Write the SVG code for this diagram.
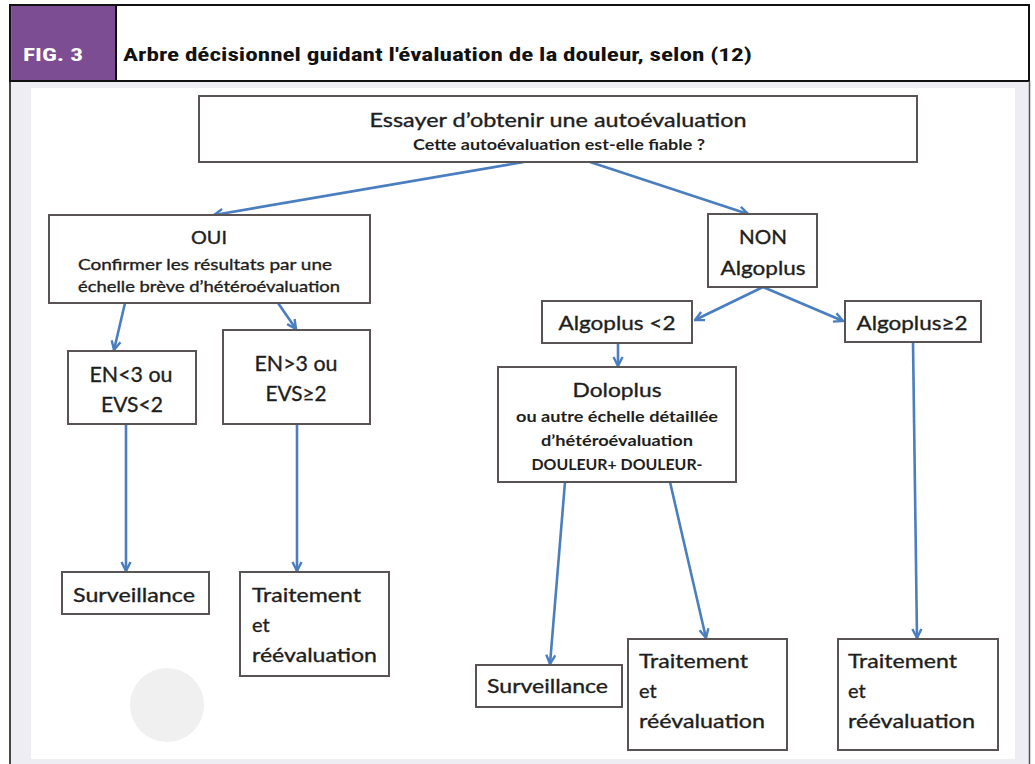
<svg xmlns="http://www.w3.org/2000/svg" width="1035" height="764" viewBox="0 0 1035 764">
<defs>
<style>
.box{fill:#ffffff;stroke:#595353;stroke-width:2}
.t{font-family:Lato,"Open Sans","Liberation Sans",sans-serif;fill:#1e1e1e;stroke:#1e1e1e;stroke-width:0.35}
.c{text-anchor:middle}
.b{font-weight:bold;stroke-width:0}
.con{fill:none;stroke:#4a7ebf;stroke-width:2.6;marker-end:url(#ah)}
.hdr{font-family:"Liberation Sans Narrow","Roboto Condensed","Liberation Sans",sans-serif;font-weight:bold;font-size:18px}
.wm{fill:#f0f0f0}
</style>
<marker id="ah" viewBox="0 0 12 12" refX="10.5" refY="6" markerWidth="12" markerHeight="12" markerUnits="userSpaceOnUse" orient="auto">
<path d="M1.5,1.5 L10.5,6 L1.5,10.5" fill="none" stroke="#4a7ebf" stroke-width="2.4" stroke-linejoin="miter"/>
</marker>
</defs>
<rect x="0" y="0" width="1035" height="764" fill="#ffffff"/>
<rect x="10" y="81" width="1020" height="683" fill="#efedf4"/>
<rect x="31" y="88" width="984" height="671" fill="#ffffff"/>
<g id="watermark">
<circle class="wm" cx="167" cy="705" r="37"/>
</g>
<g id="header">
<rect x="10" y="5" width="106" height="76" fill="#7c4d92"/>
<line x1="10.8" y1="5" x2="10.8" y2="81" stroke="#2a9ad8" stroke-width="1.5"/>
<rect x="116" y="5" width="913" height="76" fill="#ffffff" stroke="#111111" stroke-width="2"/>
<rect x="10" y="5" width="1019" height="76" fill="none" stroke="#111111" stroke-width="2"/>
<text class="hdr" x="23" y="61" fill="#ffffff" textLength="60" lengthAdjust="spacingAndGlyphs">FIG. 3</text>
<text class="hdr" x="123" y="61" fill="#111111" textLength="629" lengthAdjust="spacingAndGlyphs">Arbre décisionnel guidant l'évaluation de la douleur, selon (12)</text>
</g>
<line x1="10" y1="81" x2="10" y2="764" stroke="#1a1a1a" stroke-width="1.6"/>
<line x1="1029.5" y1="81" x2="1029.5" y2="764" stroke="#555555" stroke-width="1.5"/>

<g id="connectors">
<line class="con" x1="524" y1="162" x2="214" y2="215"/>
<line class="con" x1="590" y1="162" x2="748" y2="214"/>
<line class="con" x1="125" y1="303" x2="114" y2="350"/>
<line class="con" x1="278" y1="303" x2="296" y2="329"/>
<line class="con" x1="126" y1="424" x2="126" y2="571"/>
<line class="con" x1="297" y1="424" x2="297" y2="571"/>
<line class="con" x1="763" y1="287" x2="695" y2="320"/>
<line class="con" x1="763" y1="287" x2="843" y2="321"/>
<line class="con" x1="618" y1="343" x2="618" y2="366"/>
<line class="con" x1="913" y1="342" x2="917" y2="638"/>
<line class="con" x1="565" y1="482" x2="550" y2="664"/>
<line class="con" x1="670" y1="482" x2="706" y2="638"/>
</g>

<g id="n-top">
<rect class="box" x="199" y="96" width="718" height="66"/>
<text class="t c" x="558" y="127" font-size="20" textLength="377" lengthAdjust="spacingAndGlyphs">Essayer d’obtenir une autoévaluation</text>
<text class="t c b" x="559" y="150" font-size="15" textLength="292" lengthAdjust="spacingAndGlyphs">Cette autoévaluation est-elle fiable ?</text>
</g>
<g id="n-oui">
<rect class="box" x="49" y="215" width="321" height="88"/>
<text class="t c" x="209" y="244" font-size="18" textLength="36" lengthAdjust="spacingAndGlyphs">OUI</text>
<text class="t c" x="205" y="270" font-size="16" textLength="254" lengthAdjust="spacingAndGlyphs">Confirmer les résultats par une</text>
<text class="t c" x="209" y="292" font-size="16" textLength="262" lengthAdjust="spacingAndGlyphs">échelle brève d’hétéroévaluation</text>
</g>
<g id="n-non">
<rect class="box" x="708" y="214" width="109" height="73"/>
<text class="t c" x="763" y="244" font-size="20" textLength="48" lengthAdjust="spacingAndGlyphs">NON</text>
<text class="t c" x="763" y="275" font-size="20" textLength="85" lengthAdjust="spacingAndGlyphs">Algoplus</text>
</g>
<g id="n-alg-lt">
<rect class="box" x="542" y="301" width="150" height="42"/>
<text class="t c" x="617" y="330" font-size="20" textLength="117" lengthAdjust="spacingAndGlyphs">Algoplus &lt;2</text>
</g>
<g id="n-alg-ge">
<rect class="box" x="845" y="301" width="136" height="41"/>
<text class="t c" x="912" y="330" font-size="20" textLength="111" lengthAdjust="spacingAndGlyphs">Algoplus≥2</text>
</g>
<g id="n-en-lt">
<rect class="box" x="68" y="351" width="128" height="73"/>
<text class="t c" x="131" y="382" font-size="22" textLength="83" lengthAdjust="spacingAndGlyphs">EN&lt;3 ou</text>
<text class="t c" x="132" y="412" font-size="22" textLength="62" lengthAdjust="spacingAndGlyphs">EVS&lt;2</text>
</g>
<g id="n-en-gt">
<rect class="box" x="223" y="330" width="147" height="94"/>
<text class="t c" x="296" y="371" font-size="22" textLength="83" lengthAdjust="spacingAndGlyphs">EN&gt;3 ou</text>
<text class="t c" x="296" y="401" font-size="22" textLength="61" lengthAdjust="spacingAndGlyphs">EVS≥2</text>
</g>
<g id="n-doloplus">
<rect class="box" x="498" y="367" width="238" height="115"/>
<text class="t c" x="617" y="397" font-size="20" textLength="89" lengthAdjust="spacingAndGlyphs">Doloplus</text>
<text class="t c b" x="617" y="422" font-size="15" textLength="202" lengthAdjust="spacingAndGlyphs">ou autre échelle détaillée</text>
<text class="t c b" x="617" y="446" font-size="15" textLength="152" lengthAdjust="spacingAndGlyphs">d’hétéroévaluation</text>
<text class="t c b" x="617" y="470" font-size="15" textLength="171" lengthAdjust="spacingAndGlyphs">DOULEUR+ DOULEUR-</text>
</g>
<g id="n-surv-1">
<rect class="box" x="62" y="572" width="147" height="42"/>
<text class="t" x="73" y="602" font-size="20" textLength="122" lengthAdjust="spacingAndGlyphs">Surveillance</text>
</g>
<g id="n-trait-1">
<rect class="box" x="240" y="572" width="149" height="104"/>
<text class="t" x="252" y="602" font-size="20" textLength="109" lengthAdjust="spacingAndGlyphs">Traitement</text>
<text class="t" x="252" y="632" font-size="20">et</text>
<text class="t" x="252" y="662" font-size="20" textLength="125" lengthAdjust="spacingAndGlyphs">réévaluation</text>
</g>
<g id="n-surv-2">
<rect class="box" x="476" y="665" width="146" height="42"/>
<text class="t" x="487" y="693" font-size="20" textLength="121" lengthAdjust="spacingAndGlyphs">Surveillance</text>
</g>
<g id="n-trait-2">
<rect class="box" x="628" y="639" width="159" height="111"/>
<text class="t" x="639" y="668" font-size="20" textLength="109" lengthAdjust="spacingAndGlyphs">Traitement</text>
<text class="t" x="639" y="698" font-size="20">et</text>
<text class="t" x="639" y="728" font-size="20" textLength="126" lengthAdjust="spacingAndGlyphs">réévaluation</text>
</g>
<g id="n-trait-3">
<rect class="box" x="838" y="639" width="160" height="111"/>
<text class="t" x="848" y="668" font-size="20" textLength="109" lengthAdjust="spacingAndGlyphs">Traitement</text>
<text class="t" x="848" y="698" font-size="20">et</text>
<text class="t" x="848" y="728" font-size="20" textLength="127" lengthAdjust="spacingAndGlyphs">réévaluation</text>
</g>
</svg>
